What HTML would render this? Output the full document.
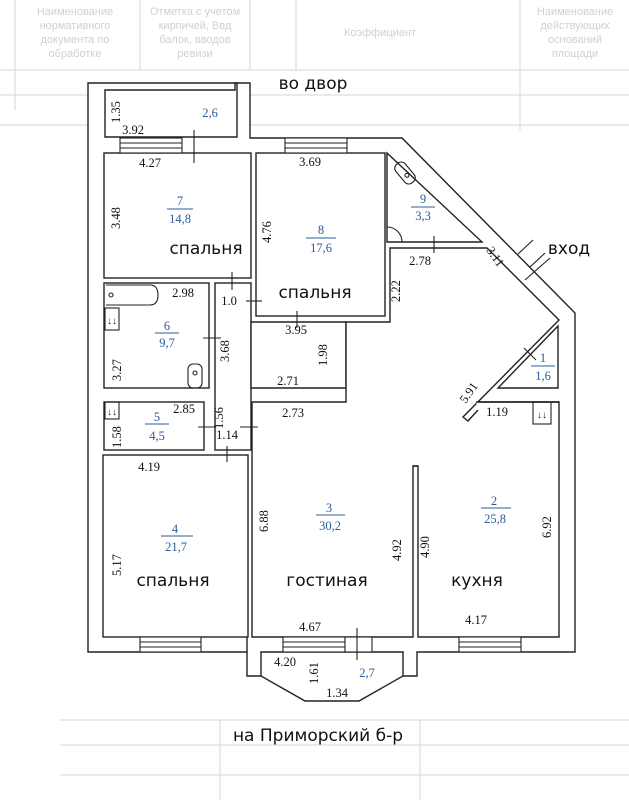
<!DOCTYPE html>
<html><head><meta charset="utf-8"><style>
html,body{margin:0;padding:0;background:#fff;}
svg{display:block;}
.d{font-family:"Liberation Serif",serif;font-size:12.5px;fill:#111;text-anchor:middle;}
.b{font-family:"Liberation Serif",serif;font-size:12.5px;fill:#2b5c9c;text-anchor:middle;}
.r{font-family:"DejaVu Sans","Liberation Sans",sans-serif;font-size:17px;fill:#111;text-anchor:middle;}
.w{fill:none;stroke:#222;stroke-width:1.4;}
.f{fill:#fff;stroke:#222;stroke-width:1.4;}
.t{stroke:#222;stroke-width:1.1;fill:none;}
.g{stroke:#d4d4d4;stroke-width:1;}
.gt{font-family:"Liberation Sans",sans-serif;font-size:11px;fill:#d0d0d0;text-anchor:middle;}
</style></head><body>
<svg width="629" height="800" viewBox="0 0 629 800" xmlns="http://www.w3.org/2000/svg">
<g>
<line class="g" x1="15" y1="0" x2="15" y2="110"/><line class="g" x1="140" y1="0" x2="140" y2="70"/>
<line class="g" x1="250" y1="0" x2="250" y2="70"/><line class="g" x1="296" y1="0" x2="296" y2="70"/>
<line class="g" x1="520" y1="0" x2="520" y2="130"/><line class="g" x1="0" y1="95" x2="629" y2="95"/>
<line class="g" x1="0" y1="125" x2="629" y2="125"/><line class="g" x1="0" y1="70" x2="629" y2="70"/>
<text class="gt" x="75" y="15">Наименование</text><text class="gt" x="75" y="29">нормативного</text><text class="gt" x="75" y="43">документа по</text><text class="gt" x="75" y="57">обработке</text>
<text class="gt" x="195" y="15">Отметка с учетом</text><text class="gt" x="195" y="29">кирпичей, Ввд</text><text class="gt" x="195" y="43">балок, вводов</text><text class="gt" x="195" y="57">ревизи</text>
<text class="gt" x="380" y="36">Коэффициент</text>
<text class="gt" x="575" y="15">Наименование</text><text class="gt" x="575" y="29">действующих</text><text class="gt" x="575" y="43">оснований</text><text class="gt" x="575" y="57">площади</text>
<line class="g" x1="60" y1="720" x2="629" y2="720"/><line class="g" x1="60" y1="745" x2="629" y2="745"/><line class="g" x1="60" y1="775" x2="629" y2="775"/>
<line class="g" x1="220" y1="720" x2="220" y2="800"/><line class="g" x1="420" y1="720" x2="420" y2="800"/>
</g>

<polygon class="f" points="88,83 250,83 250,138 402,138 575,313 575,652 417,652 417,676 247,676 247,652 88,652"/>
<polygon class="f" points="105,90 235,90 235,83 237,83 237,137 105,137"/>
<rect class="f" x="104" y="153" width="147" height="125"/>
<rect class="f" x="256" y="153" width="129" height="163"/>
<polygon class="f" points="387,153 482,242 387,242"/>
<rect class="f" x="104" y="283" width="105" height="105"/>
<rect class="f" x="215" y="283" width="36" height="167"/>
<rect class="f" x="104" y="402" width="100" height="48"/>
<polygon class="f" points="251,322 346,322 346,388 251,388"/>
<rect class="f" x="103" y="455" width="145" height="182"/>
<polygon class="f" points="252,402 346,402 346,322 390,322 390,248 487,248 559,320 463,417 468,421 478,410 478,402 559,402 559,637 418,637 418,466 413,466 413,637 252,637"/>
<polygon class="f" points="558,326 558,388 498,388"/>
<line x1="478" y1="402" x2="478" y2="410" stroke="#fff" stroke-width="3"/>
<line class="w" x1="476" y1="402" x2="559" y2="402"/>
<line class="w" x1="413" y1="466" x2="418" y2="466"/>
<polygon class="f" points="261,652 403,652 403,676 359,701 305,701 261,676"/>
<line class="w" x1="247" y1="637" x2="247" y2="652"/>

<g class="t">
<rect x="120" y="138" width="62" height="15" fill="#fff"/><line x1="120" y1="143" x2="182" y2="143"/><line x1="120" y1="148" x2="182" y2="148"/>
<rect x="285" y="138" width="62" height="15" fill="#fff"/><line x1="285" y1="143" x2="347" y2="143"/><line x1="285" y1="148" x2="347" y2="148"/>
<rect x="140" y="637" width="61" height="15" fill="#fff"/><line x1="140" y1="642" x2="201" y2="642"/><line x1="140" y1="647" x2="201" y2="647"/>
<rect x="283" y="637" width="62" height="15" fill="#fff"/><line x1="283" y1="642" x2="345" y2="642"/><line x1="283" y1="647" x2="345" y2="647"/>
<rect x="345" y="637" width="27" height="15" fill="#fff"/>
<rect x="459" y="637" width="62" height="15" fill="#fff"/><line x1="459" y1="642" x2="521" y2="642"/><line x1="459" y1="647" x2="521" y2="647"/>
<line x1="518" y1="254" x2="533" y2="240"/><line x1="530" y1="267" x2="545" y2="253"/>
<line x1="525" y1="280" x2="550" y2="258"/>
</g>
<g class="t">
<line x1="194" y1="130" x2="194" y2="163"/>
<line x1="232" y1="272" x2="232" y2="290"/>
<line x1="246" y1="301" x2="262" y2="301"/>
<line x1="203" y1="338" x2="221" y2="338"/>
<line x1="198" y1="427" x2="215" y2="427"/>
<line x1="240" y1="427" x2="258" y2="427"/>
<line x1="227" y1="446" x2="227" y2="462"/>
<line x1="297" y1="311" x2="297" y2="328"/>
<line x1="434" y1="236" x2="434" y2="253"/>
<line x1="524" y1="348" x2="536" y2="360"/>
<line x1="357" y1="628" x2="357" y2="660"/>
<path d="M106,285 H150 Q158,285 158,295 Q158,305 150,305 H106" />
<circle cx="111" cy="295" r="2"/>
<rect x="105" y="308" width="14" height="22"/>
<text x="112" y="324" font-size="10" text-anchor="middle" fill="#222" stroke="none">↓↓</text>
<rect x="105" y="402" width="14" height="17"/>
<text x="112" y="415" font-size="10" text-anchor="middle" fill="#222" stroke="none">↓↓</text>
<rect x="533" y="402" width="18" height="22"/>
<text x="542" y="418" font-size="10" text-anchor="middle" fill="#222" stroke="none">↓↓</text>
<rect x="188" y="364" width="14" height="24" rx="5"/><circle cx="195" cy="373" r="2"/>
<g transform="translate(405,173) rotate(-40)"><rect x="-6" y="-12" width="12" height="24" rx="5"/><circle cx="0" cy="3" r="2"/></g>
<path d="M387,227 A15,15 0 0 1 402,242"/>
</g>

<text class="r" x="313" y="89">во двор</text>
<text class="r" x="569" y="254">вход</text>
<text class="r" x="318" y="741">на Приморский б-р</text>
<text class="r" x="206" y="254">спальня</text>
<text class="r" x="315" y="298">спальня</text>
<text class="r" x="173" y="586">спальня</text>
<text class="r" x="327" y="586">гостиная</text>
<text class="r" x="477" y="586">кухня</text>

<g class="d">
<text transform="translate(120,112) rotate(-90)">1.35</text>
<text x="133" y="134">3.92</text>
<text x="150" y="167">4.27</text>
<text x="310" y="166">3.69</text>
<text transform="translate(120,218) rotate(-90)">3.48</text>
<text transform="translate(271,232) rotate(-90)">4.76</text>
<text x="183" y="297">2.98</text>
<text x="229" y="305">1.0</text>
<text transform="translate(229,351) rotate(-90)">3.68</text>
<text transform="translate(121,370) rotate(-90)">3.27</text>
<text x="296" y="334">3.95</text>
<text transform="translate(327,355) rotate(-90)">1.98</text>
<text x="288" y="385">2.71</text>
<text x="184" y="413">2.85</text>
<text transform="translate(121,437) rotate(-90)">1.58</text>
<text transform="translate(223,418) rotate(-90)">1.56</text>
<text x="227" y="439">1.14</text>
<text x="293" y="417">2.73</text>
<text x="420" y="265">2.78</text>
<text transform="translate(492,259) rotate(55)">3.11</text>
<text transform="translate(400,291) rotate(-90)">2.22</text>
<text transform="translate(472,395) rotate(-55)">5.91</text>
<text x="497" y="416">1.19</text>
<text x="149" y="471">4.19</text>
<text transform="translate(121,565) rotate(-90)">5.17</text>
<text transform="translate(268,521) rotate(-90)">6.88</text>
<text transform="translate(401,550) rotate(-90)">4.92</text>
<text transform="translate(429,547) rotate(-90)">4.90</text>
<text transform="translate(551,527) rotate(-90)">6.92</text>
<text x="310" y="631">4.67</text>
<text x="476" y="624">4.17</text>
<text x="285" y="666">4.20</text>
<text transform="translate(318,673) rotate(-90)">1.61</text>
<text x="337" y="697">1.34</text>
</g>
<g class="b">
<text x="210" y="117">2,6</text>
<text x="180" y="205">7</text><line x1="167" y1="209" x2="193" y2="209" stroke="#2b5c9c"/><text x="180" y="223">14,8</text>
<text x="321" y="234">8</text><line x1="306" y1="238" x2="336" y2="238" stroke="#2b5c9c"/><text x="321" y="252">17,6</text>
<text x="423" y="203">9</text><line x1="411" y1="207" x2="435" y2="207" stroke="#2b5c9c"/><text x="423" y="220">3,3</text>
<text x="167" y="330">6</text><line x1="155" y1="333" x2="179" y2="333" stroke="#2b5c9c"/><text x="167" y="347">9,7</text>
<text x="157" y="421">5</text><line x1="145" y1="424" x2="169" y2="424" stroke="#2b5c9c"/><text x="157" y="440">4,5</text>
<text x="543" y="362">1</text><line x1="531" y1="366" x2="555" y2="366" stroke="#2b5c9c"/><text x="543" y="380">1,6</text>
<text x="175" y="533">4</text><line x1="161" y1="536" x2="193" y2="536" stroke="#2b5c9c"/><text x="176" y="551">21,7</text>
<text x="329" y="512">3</text><line x1="316" y1="515" x2="345" y2="515" stroke="#2b5c9c"/><text x="330" y="530">30,2</text>
<text x="494" y="505">2</text><line x1="481" y1="508" x2="511" y2="508" stroke="#2b5c9c"/><text x="495" y="523">25,8</text>
<text x="367" y="677">2,7</text>
</g>
</svg>
</body></html>
